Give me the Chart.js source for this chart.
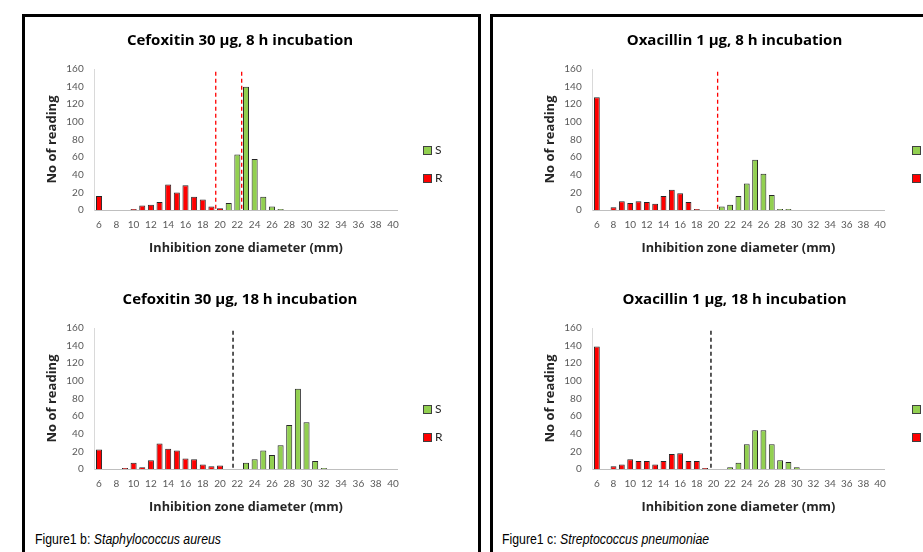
<!DOCTYPE html>
<html>
<head>
<meta charset="utf-8">
<script src="https://cdn.jsdelivr.net/npm/chart.js@4.4.0/dist/chart.umd.min.js"></script>
<style>
  body { margin: 0; width: 923px; height: 552px; overflow: hidden; background: #fff; position: relative; font-family: Lato, sans-serif; }
  .panel { position: absolute; top: 14px; height: 600px; border: 3px solid #000; box-sizing: border-box; }
  canvas { position: absolute; }
  .key { position: absolute; font: 12px Lato, sans-serif; color: #262626; line-height: 11px; white-space: nowrap; }
  .key span { display: inline-block; width: 9px; height: 9px; border: 1px solid #404040; box-sizing: border-box; vertical-align: -1px; margin-right: 3px; }
  .caption { position: absolute; font: 15px "Liberation Sans", sans-serif; color: #000; white-space: nowrap; transform: scaleX(0.82); transform-origin: left center; }
</style>
</head>
<body>
<div class="panel" style="left:22px; width:459px;"></div>
<div class="panel" style="left:490px; width:460px;"></div>

<canvas id="cefo8" width="420" height="240" style="left:30px; top:25px;"></canvas>
<canvas id="cefo18" width="420" height="240" style="left:30px; top:284px;"></canvas>
<canvas id="oxa8" width="413" height="240" style="left:528px; top:25px;"></canvas>
<canvas id="oxa18" width="413" height="240" style="left:528px; top:284px;"></canvas>

<div id="legends"></div>

<div class="caption" style="left:35px; top:530px;">Figure1 b: <i>Staphylococcus aureus</i></div>
<div class="caption" style="left:502px; top:530px;">Figure1 c: <i>Streptococcus pneumoniae</i></div>

<script>
// Inhibition zone diameters (mm), one bar slot per millimetre
const diameters = [6, 7, 8, 9, 10, 11, 12, 13, 14, 15, 16, 17, 18, 19, 20, 21, 22, 23,
                   24, 25, 26, 27, 28, 29, 30, 31, 32, 33, 34, 35, 36, 37, 38, 39, 40];
const seriesNames = ['S', 'R'];
const seriesColors = ['#92d050', '#ff0000'];

// Cefoxitin 30 µg, 8 h
const cefo8S = [null, null, null, null, null, null, null, null, null, null, null, null, null, null, null,
                8, 63, 140, 58, 15, 4, 1,
                null, null, null, null, null, null, null, null, null, null, null, null, null];
const cefo8R = [16, null, null, null, 1, 5, 6, 9, 29, 20, 28, 15, 12, 4, 2,
                null, null, null, null, null, null, null, null, null, null, null, null, null, null, null, null, null, null, null, null];
const cefo8Cut = [19.5, 22.5];

// Cefoxitin 30 µg, 18 h
const cefo18S = [null, null, null, null, null, null, null, null, null, null, null, null, null, null, null, null, null,
                 7, 11, 21, 16, 27, 50, 91, 53, 9, 1,
                 null, null, null, null, null, null, null, null];
const cefo18R = [22, null, null, 1, 7, 2, 10, 29, 23, 21, 12, 11, 5, 3, 4,
                 null, null, null, null, null, null, null, null, null, null, null, null, null, null, null, null, null, null, null, null];
const cefo18Cut = [21.5];

// Oxacillin 1 µg, 8 h
const oxa8S = [null, null, null, null, null, null, null, null, null, null, null, null, null, null, null,
               4, 6, 16, 30, 57, 41, 17, 1, 1,
               null, null, null, null, null, null, null, null, null, null, null];
const oxa8R = [128, null, 3, 10, 8, 10, 9, 7, 16, 23, 19, 9, 1,
               null, null, null, null, null, null, null, null, null, null, null, null, null, null, null, null, null, null, null, null, null, null];
const oxa8Cut = [20.5];

// Oxacillin 1 µg, 18 h
const oxa18S = [null, null, null, null, null, null, null, null, null, null, null, null, null, null, null, null,
                2, 7, 28, 44, 44, 28, 10, 8, 2,
                null, null, null, null, null, null, null, null, null, null];
const oxa18R = [139, null, 3, 5, 11, 9, 9, 5, 9, 17, 18, 9, 9, 1,
                null, null, null, null, null, null, null, null, null, null, null, null, null, null, null, null, null, null, null, null, null];
const oxa18Cut = [19.7];

// dashed breakpoint lines, placed through the x scale
const cutoffLines = {
    id: 'cutoffLines',
    afterDatasetsDraw(chart, args, opts) {
        const { ctx, scales: { x, y } } = chart;
        ctx.save();
        ctx.strokeStyle = opts.color;
        ctx.lineWidth = 1.3;
        ctx.setLineDash([4, 3]);
        opts.values.forEach(v => {
            const px = x.getPixelForValue(v - diameters[0]);
            ctx.beginPath();
            ctx.moveTo(px, y.getPixelForValue(157));
            ctx.lineTo(px, y.getPixelForValue(0));
            ctx.stroke();
        });
        ctx.restore();
    }
};

function makeChart(id, title, sData, rData, cuts, cutColor, rightGap) {
    return new Chart(document.getElementById(id), {
        type: 'bar',
        data: {
            labels: diameters,
            datasets: [sData, rData].map((d, i) => ({
                label: seriesNames[i],
                data: d,
                backgroundColor: seriesColors[i],
                borderColor: '#262626',
                borderWidth: 1,
                grouped: false,
                barPercentage: 0.7,
                categoryPercentage: 1
            }))
        },
        options: {
            responsive: false,
            animation: false,
            plugins: {
                legend: { display: false },
                tooltip: { enabled: false },
                title: {
                    display: true,
                    text: title,
                    color: '#000',
                    font: { family: 'Open Sans', size: 15, weight: 'bold' },
                    padding: { top: 7, bottom: 19 }
                },
                cutoffLines: { values: cuts, color: cutColor }
            },
            scales: {
                x: {
                    grid: { display: false, drawTicks: false },
                    border: { color: '#bfbfbf', width: 1 },
                    ticks: {
                        autoSkip: false, maxRotation: 0, padding: 9,
                        color: '#595959', font: { family: 'Lato', size: 10 },
                        callback: (v, i) => diameters[i] % 2 === 0 ? diameters[i] : ''
                    },
                    title: {
                        display: true, text: 'Inhibition zone diameter (mm)', color: '#262626',
                        font: { family: 'Open Sans', size: 12.7, weight: 'bold' },
                        padding: { top: 0, bottom: 9.4 }
                    },
                    afterFit: s => { s.height = 55; }
                },
                y: {
                    min: 0, max: 160,
                    grid: { display: false, drawTicks: false },
                    border: { color: '#d9d9d9', width: 1 },
                    ticks: { stepSize: 20, padding: 11, color: '#595959', font: { family: 'Lato', size: 10 } },
                    title: {
                        display: true, text: 'No of reading', color: '#262626',
                        font: { family: 'Open Sans', size: 13, weight: 'bold' },
                        padding: { top: 14.9, bottom: 0 }
                    },
                    afterFit: s => { s.width = 64.7; }
                },
                // empty right-hand axis that only reserves room for the legend
                gap: {
                    position: 'right',
                    grid: { display: false, drawTicks: false },
                    border: { display: false },
                    ticks: { display: false },
                    afterFit: s => { s.width = rightGap; }
                }
            }
        },
        plugins: [cutoffLines]
    });
}

makeChart('cefo8', 'Cefoxitin 30 µg, 8 h incubation', cefo8S, cefo8R, cefo8Cut, '#ff0000', 52.7);
makeChart('cefo18', 'Cefoxitin 30 µg, 18 h incubation', cefo18S, cefo18R, cefo18Cut, '#000', 52.7);
makeChart('oxa8', 'Oxacillin 1 µg, 8 h incubation', oxa8S, oxa8R, oxa8Cut, '#ff0000', 56.8);
makeChart('oxa18', 'Oxacillin 1 µg, 18 h incubation', oxa18S, oxa18R, oxa18Cut, '#000', 56.8);

// legends beside each chart
const legendSpots = [[423, 144], [423, 403], [912, 144], [912, 403]];
const legendBox = document.getElementById('legends');
legendSpots.forEach(([lx, ly]) => {
    seriesNames.forEach((name, i) => {
        const k = document.createElement('div');
        k.className = 'key';
        k.style.left = lx + 'px';
        k.style.top = (ly + i * 28) + 'px';
        k.innerHTML = '<span style="background:' + seriesColors[i] + '"></span>' + name;
        legendBox.appendChild(k);
    });
});
</script>
</body>
</html>
